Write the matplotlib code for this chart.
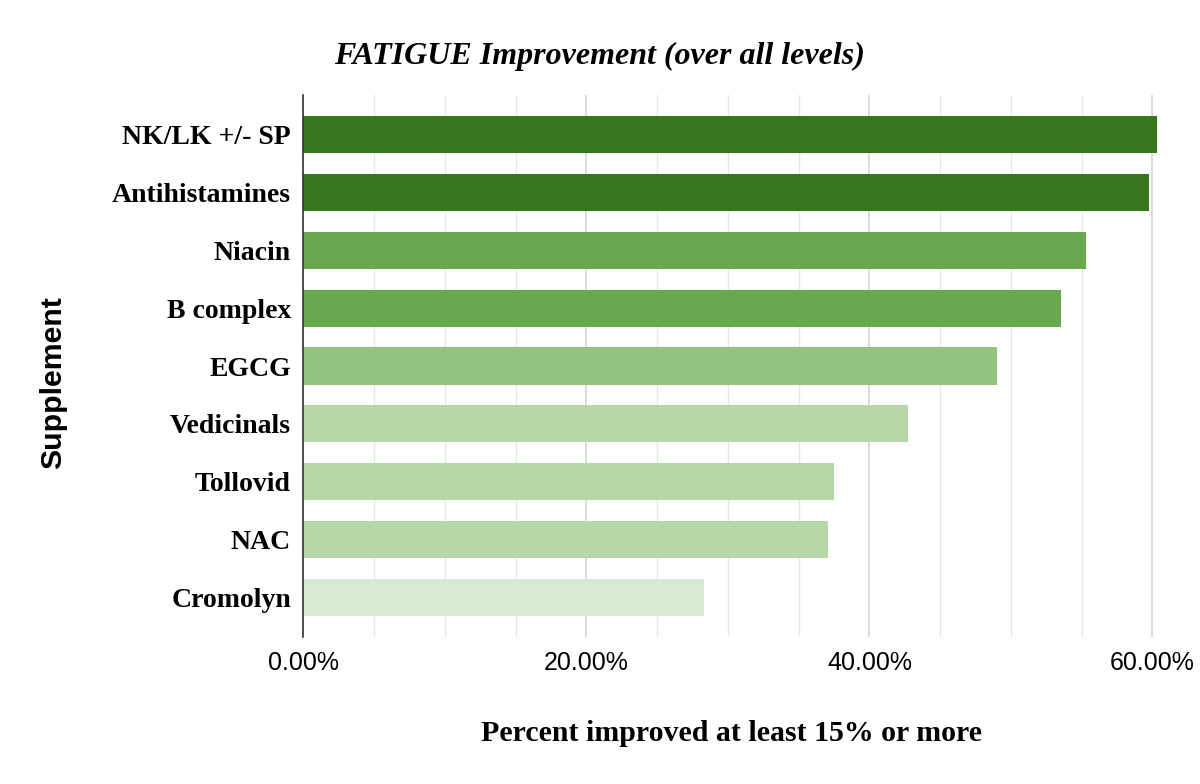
import matplotlib
matplotlib.use("Agg")
import matplotlib.pyplot as plt
from matplotlib.ticker import MultipleLocator, FuncFormatter

categories = ["NK/LK +/- SP", "Antihistamines", "Niacin", "B complex", "EGCG",
              "Vedicinals", "Tollovid", "NAC", "Cromolyn"]
values = [0.6035, 0.5975, 0.553, 0.5355, 0.490, 0.427, 0.375, 0.371, 0.283]
colors = ["#38761d", "#38761d", "#6aa84f", "#6aa84f", "#93c47d",
          "#b6d7a8", "#b6d7a8", "#b6d7a8", "#d9ead3"]
xticks = [0.0, 0.2, 0.4, 0.6]

fig = plt.figure(figsize=(12, 7.84), dpi=100)
ax = fig.add_axes([0.2529, 0.1875, 0.984 - 0.2529, 0.8788 - 0.1875])

y = list(range(len(categories)))
ax.barh(y, values, height=0.64, color=colors, zorder=3)
ax.set_ylim(len(categories) - 1 + 0.68, -0.68)
ax.set_xlim(0, 0.62)

ax.set_yticks(y)
ax.set_yticklabels(categories, fontfamily="Liberation Serif", fontweight="bold", fontsize=20)
ax.set_xticks(xticks)
ax.xaxis.set_major_formatter(FuncFormatter(lambda v, p: f"{v*100:.2f}%"))
ax.xaxis.set_minor_locator(MultipleLocator(0.05))
for lab in ax.get_xticklabels():
    lab.set_fontfamily("Liberation Sans")
    lab.set_fontsize(18)
ax.tick_params(axis="both", which="both", length=0)
ax.tick_params(axis="y", pad=9)
ax.tick_params(axis="x", pad=10)

ax.grid(axis="x", which="major", color="#d4d4d4", linewidth=1.2, zorder=0)
ax.grid(axis="x", which="minor", color="#e6e6e6", linewidth=1.0, zorder=0)
for s in ["top", "right", "bottom"]:
    ax.spines[s].set_visible(False)
ax.spines["left"].set_color("#333333")
ax.spines["left"].set_linewidth(1.2)
ax.spines["left"].set_zorder(4)

fig.text(0.4995, 0.928, "FATIGUE Improvement (over all levels)", ha="center", va="center",
         fontfamily="Liberation Serif", fontweight="bold", fontstyle="italic", fontsize=23)
fig.text(0.6095, 0.065, "Percent improved at least 15% or more", ha="center", va="center",
         fontfamily="Liberation Serif", fontweight="bold", fontsize=21.5)
fig.text(0.0445, 0.5115, "Supplement", ha="center", va="center", rotation=90,
         fontfamily="Liberation Sans", fontweight="bold", fontsize=21.8)

fig.savefig("out.png", dpi=100, facecolor="white")
